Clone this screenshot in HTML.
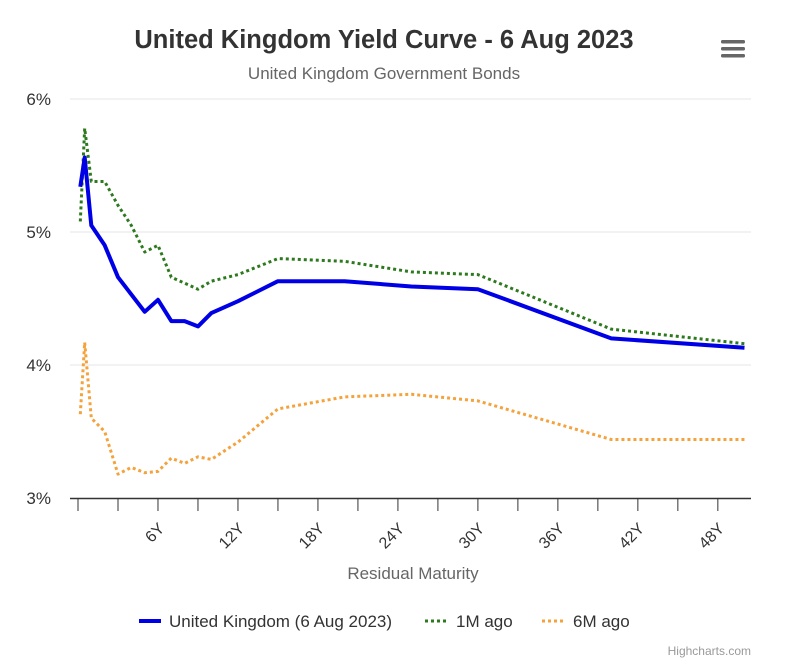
<!DOCTYPE html>
<html><head><meta charset="utf-8"><style>
body{margin:0;background:#fff;font-family:"Liberation Sans",Arial,sans-serif}
svg text{font-family:"Liberation Sans",Arial,sans-serif}
</style></head><body>
<svg width="800" height="667" id="chart">
<rect width="800" height="667" fill="#fff"/>
<text x="384" y="48" text-anchor="middle" font-size="25.5" font-weight="bold" fill="#333">United Kingdom Yield Curve - 6 Aug 2023</text>
<text x="384" y="79" text-anchor="middle" font-size="17" fill="#666">United Kingdom Government Bonds</text>
<g fill="#666">
<rect x="721" y="40" width="24" height="3.5" rx="1.5"/><rect x="721" y="47" width="24" height="3.5" rx="1.5"/><rect x="721" y="54" width="24" height="3.5" rx="1.5"/>
</g>
<g id="grid"></g><g id="axes"></g><g id="series"></g>
<text x="413" y="579" text-anchor="middle" font-size="17" fill="#666">Residual Maturity</text>
<g>
<g><line x1="139" y1="621" x2="161" y2="621" stroke="#0000e6" stroke-width="4"/><text x="169" y="627" font-size="17" fill="#333">United Kingdom (6 Aug 2023)</text></g>
<g><line x1="425" y1="621" x2="447" y2="621" stroke="#2d7a1e" stroke-width="3" stroke-dasharray="3,3"/><text x="456" y="627" font-size="17" fill="#333">1M ago</text></g>
<g><line x1="542" y1="621" x2="564" y2="621" stroke="#f4a23b" stroke-width="3" stroke-dasharray="3,3"/><text x="573" y="627" font-size="17" fill="#333">6M ago</text></g>
</g>
<text x="751" y="655" text-anchor="end" font-size="12" fill="#999">Highcharts.com</text>
</svg>
<script>
const yTicks=[3,4,5,6];
const xTicks=[0,3,6,9,12,15,18,21,24,27,30,33,36,39,42,45,48];
const xLabels=[6,12,18,24,30,36,42,48];
const ukX=[0.17,0.5,1,2,3,5,6,7,8,9,10,12,15,20,25,30,40,50];
const ukY=[5.34,5.56,5.05,4.90,4.66,4.40,4.49,4.33,4.33,4.29,4.39,4.48,4.63,4.63,4.59,4.57,4.20,4.13];
const m1X=[0.17,0.5,1,2,3,4,5,6,7,9,10,12,15,20,25,30,40,50];
const m1Y=[5.08,5.78,5.38,5.38,5.20,5.05,4.85,4.90,4.66,4.57,4.63,4.68,4.80,4.78,4.70,4.68,4.27,4.16];
const m6X=[0.17,0.5,1,2,3,4,5,6,7,8,9,10,12,15,20,25,30,40,50];
const m6Y=[3.63,4.17,3.60,3.50,3.18,3.23,3.19,3.20,3.30,3.26,3.31,3.29,3.42,3.67,3.76,3.78,3.73,3.44,3.44];
const NS="http://www.w3.org/2000/svg";
const X=v=>78+v*13.33, Y=v=>498-(v-3)*133;
function mk(t,a,p){const e=document.createElementNS(NS,t);for(const k in a)e.setAttribute(k,a[k]);p.appendChild(e);return e;}
const grid=document.getElementById('grid'),axes=document.getElementById('axes'),ser=document.getElementById('series');
yTicks.forEach(v=>{
 if(v>3){const l=mk('line',{x1:70,x2:751,y1:Y(v),y2:Y(v),stroke:'#e6e6e6'},grid);
 
 }
 const t=mk('text',{x:51,y:Y(v)+6,'text-anchor':'end','font-size':17,fill:'#333'},axes);t.textContent=v+'%';
 
 
});
const ax=mk('line',{x1:70,x2:751,y1:498.5,y2:498.5,stroke:'#333','stroke-width':1.5},axes);


xTicks.forEach(v=>{const l=mk('line',{x1:X(v),x2:X(v),y1:498,y2:511,stroke:'#333'},axes);
 
 });
xLabels.forEach(v=>{const x=X(v)-1,y=521;const t=mk('text',{x:x,y:y+12,'text-anchor':'end','font-size':16,fill:'#333',transform:`rotate(-45 ${x} ${y})`},axes);t.textContent=v+'Y';
 
 });
function line(xs,ys,color,w,dash,name){const d=xs.map((x,i)=>(i?'L':'M')+X(x).toFixed(1)+' '+Y(ys[i]).toFixed(1)).join(' ');
 const a={d:d,fill:'none',stroke:color,'stroke-width':w,'stroke-linejoin':'round'};if(dash)a['stroke-dasharray']=dash;
 const p=mk('path',a,ser);
 
 }
line(m6X,m6Y,'#f4a23b',3,'3,3','series-6m-ago');
line(m1X,m1Y,'#2d7a1e',3,'3,3','series-1m-ago');
line(ukX,ukY,'#0000e6',4,null,'series-united-kingdom');
</script>
</body></html>
